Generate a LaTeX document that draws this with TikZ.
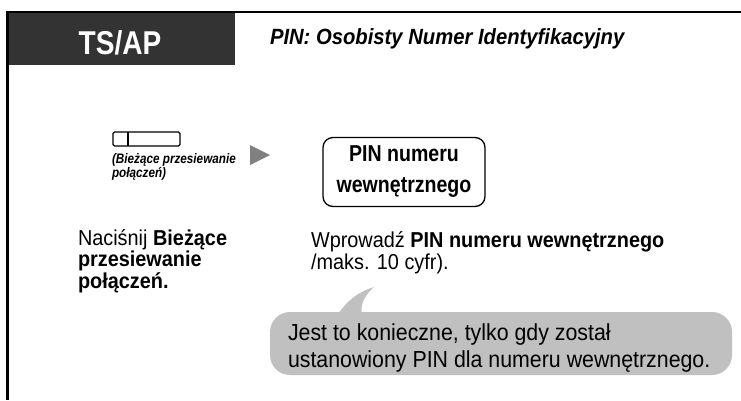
\documentclass[tikz,border=0pt]{standalone}
\usepackage{fontspec}
\setmainfont{Liberation Sans}
\newfontfamily\condA[FakeStretch=0.85]{Liberation Sans}
\newfontfamily\condB[FakeStretch=0.92]{Liberation Sans}
\definecolor{hdr}{HTML}{333333}
\definecolor{bub}{HTML}{C0C0C0}
\definecolor{tri}{HTML}{808080}
\tikzset{
  txt/.style={inner sep=0pt, outer sep=0pt, align=left, anchor=base west},
  frameline/.style={line width=2.8pt, black},
}
\begin{document}
\begin{tikzpicture}[x=1pt,y=-1pt]
\useasboundingbox (0,0) rectangle (741,400);
% header
\fill[hdr] (7.5,12) rectangle (235,65);
\draw[frameline] (741,12) -- (7.5,12) -- (7.5,400);
\node[txt, anchor=base, text=white, font=\condA\fontsize{33}{36}\selectfont\bfseries] (ts) at (120,54) {TS/AP};
\node[txt, font=\condB\fontsize{22}{24}\selectfont\bfseries\itshape] (title) at (270,44.5) {PIN: Osobisty Numer Identyfikacyjny};
% button
\draw[line width=1.3pt, rounded corners=1.5pt] (113,132) rectangle (180,146);
\draw[line width=1.3pt] (128,132) -- (128,146);
\node[txt, font=\condA\fontsize{13.8}{13.5}\selectfont\bfseries\itshape] (cap) at (112,177) {(Bieżące przesiewanie\\połączeń)};
% arrow triangle
\fill[tri] (250,145) -- (270,155) -- (250,165) -- cycle;
% PIN box
\node[draw, line width=1.3pt, rounded corners=10pt, minimum width=162pt, minimum height=69pt, inner sep=0pt, align=center,
  font=\condA\fontsize{23}{31}\selectfont\bfseries] (pin) at (404,172) {PIN numeru\\wewnętrznego};
% step texts
\node[txt, font=\condB\fontsize{21.6}{19.2}\selectfont] (s1) at (78,288) {Naciśnij \textbf{Bieżące}\\\textbf{przesiewanie}\\\textbf{połączeń.}};
\node[txt, font=\condB\fontsize{21.6}{19.2}\selectfont] (s2) at (311,269) {Wprowadź \textbf{PIN numeru wewnętrznego}\\/maks. 10 cyfr).};
% bubble
\fill[bub, rounded corners=20pt] (270,312) rectangle (732,375);
\fill[bub] (338,314) .. controls (348,300) and (358,292) .. (374,287)
  .. controls (364,296) and (360,305) .. (362,314) -- cycle;
\node[txt, font=\condB\fontsize{23.2}{27}\selectfont] (note) at (288,367) {Jest to konieczne, tylko gdy został\\ustanowiony PIN dla numeru wewnętrznego.};
\end{tikzpicture}
\end{document}
